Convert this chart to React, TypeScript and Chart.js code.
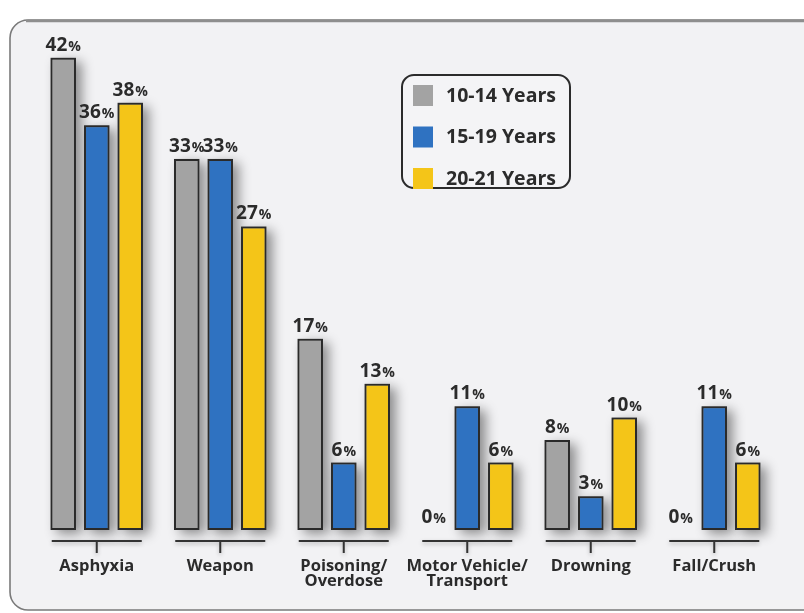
import { useEffect, useRef } from "react";
import { Chart, registerables } from "chart.js";

Chart.register(...registerables);

const categories: string[][] = [
  ["Asphyxia"],
  ["Weapon"],
  ["Poisoning/", "Overdose"],
  ["Motor Vehicle/", "Transport"],
  ["Drowning"],
  ["Fall/Crush"],
];
const seriesNames = ["10-14 Years", "15-19 Years", "20-21 Years"];
const ages10to14 = [42, 33, 17, 0, 8, 0];
const ages15to19 = [36, 33, 6, 11, 3, 11];
const ages20to21 = [38, 27, 13, 6, 10, 6];

const seriesColors = ["#a3a3a3", "#2f72c1", "#f4c518"];
const ink = "#2b2b2b";
const FONT = "'Open Sans', 'Noto Sans', sans-serif";

function roundRect(ctx: CanvasRenderingContext2D, x: number, y: number, w: number, h: number, r: number) {
  ctx.beginPath();
  ctx.moveTo(x + r, y);
  ctx.lineTo(x + w - r, y);
  ctx.arcTo(x + w, y, x + w, y + r, r);
  ctx.lineTo(x + w, y + h - r);
  ctx.arcTo(x + w, y + h, x + w - r, y + h, r);
  ctx.lineTo(x + r, y + h);
  ctx.arcTo(x, y + h, x, y + h - r, r);
  ctx.lineTo(x, y + r);
  ctx.arcTo(x, y, x + r, y, r);
  ctx.closePath();
}

const panelPlugin = {
  id: "panel",
  beforeDraw(chart: any) {
    const ctx = chart.ctx as CanvasRenderingContext2D;
    ctx.save();
    ctx.fillStyle = "#ffffff";
    ctx.fillRect(0, 0, chart.width, chart.height);
    roundRect(ctx, 10, 20, 830, 590, 18);
    ctx.fillStyle = "#f2f2f4";
    ctx.fill();
    ctx.lineWidth = 1.6;
    ctx.strokeStyle = "#7a7a7a";
    ctx.stroke();
    ctx.beginPath();
    ctx.moveTo(26, 21);
    ctx.lineTo(804, 21);
    ctx.lineWidth = 2.5;
    ctx.strokeStyle = "#8e8e8e";
    ctx.stroke();
    ctx.restore();
  },
};

const shadowPlugin = {
  id: "barShadow",
  beforeDatasetsDraw(chart: any) {
    const ctx = chart.ctx as CanvasRenderingContext2D;
    ctx.save();
    ctx.shadowColor = "rgba(0,0,0,0.42)";
    ctx.shadowBlur = 12;
    ctx.shadowOffsetX = 6;
    ctx.shadowOffsetY = 4;
    ctx.fillStyle = "#888888";
    chart.data.datasets.forEach((_ds: any, i: number) => {
      const meta = chart.getDatasetMeta(i);
      meta.data.forEach((el: any) => {
        const p = el.getProps(["x", "y", "base", "width"], true);
        const h = p.base - p.y;
        if (h <= 0) return;
        ctx.fillRect(p.x - p.width / 2, p.y, p.width, h);
      });
    });
    ctx.restore();
  },
};

const annotatePlugin = {
  id: "annotate",
  afterDraw(chart: any) {
    const ctx = chart.ctx as CanvasRenderingContext2D;
    const xScale = chart.scales.x;
    const base = chart.chartArea.bottom;
    ctx.save();
    ctx.fillStyle = ink;

    // value labels
    chart.data.datasets.forEach((ds: any, i: number) => {
      const meta = chart.getDatasetMeta(i);
      meta.data.forEach((el: any, j: number) => {
        const v = ds.data[j];
        const num = String(v);
        ctx.font = `bold 19px ${FONT}`;
        const wNum = ctx.measureText(num).width;
        ctx.font = `bold 14px ${FONT}`;
        const wPct = ctx.measureText("%").width;
        const total = wNum + wPct + 1;
        const x0 = el.x - total / 2;
        const y = el.y - 7;
        ctx.textBaseline = "alphabetic";
        ctx.textAlign = "left";
        ctx.font = `bold 19px ${FONT}`;
        ctx.fillText(num, x0, y);
        ctx.font = `bold 14px ${FONT}`;
        ctx.fillText("%", x0 + wNum + 1, y);
      });
    });

    // group brackets and category labels
    const lineY = base + 11;
    categories.forEach((lines, j) => {
      const cx = xScale.getPixelForValue(j);
      ctx.save();
      ctx.shadowColor = "rgba(0,0,0,0.25)";
      ctx.shadowBlur = 4;
      ctx.shadowOffsetY = 2;
      ctx.strokeStyle = "#333333";
      ctx.lineWidth = 2;
      ctx.beginPath();
      ctx.moveTo(cx - 45, lineY);
      ctx.lineTo(cx + 45, lineY);
      ctx.moveTo(cx, lineY);
      ctx.lineTo(cx, lineY + 12);
      ctx.stroke();
      ctx.restore();
      ctx.fillStyle = ink;
      ctx.font = `bold 16.5px ${FONT}`;
      ctx.textAlign = "center";
      ctx.textBaseline = "middle";
      lines.forEach((t, k) => {
        ctx.fillText(t, cx, base + 36 + k * 15);
      });
    });

    // legend
    roundRect(ctx, 402, 75, 168, 113, 12);
    ctx.fillStyle = "#f4f4f6";
    ctx.fill();
    ctx.lineWidth = 2;
    ctx.strokeStyle = ink;
    ctx.stroke();
    chart.data.datasets.forEach((ds: any, i: number) => {
      const cy = 95 + i * 41.5;
      ctx.fillStyle = ds.backgroundColor;
      ctx.fillRect(413, cy - 10, 20, 21);
      ctx.fillStyle = ink;
      ctx.font = `bold 19.5px ${FONT}`;
      ctx.textAlign = "left";
      ctx.textBaseline = "middle";
      ctx.fillText(ds.label, 446, cy + 1);
    });
    ctx.restore();
  },
};

export default function App() {
  const ref = useRef<HTMLCanvasElement | null>(null);
  useEffect(() => {
    document.body.style.margin = "0";
    const canvas = ref.current!;
    const series = [ages10to14, ages15to19, ages20to21];
    const chart = new Chart(canvas, {
      type: "bar",
      data: {
        labels: categories.map((c) => c.join(" ")),
        datasets: series.map((d, i) => ({
          label: seriesNames[i],
          data: d,
          backgroundColor: seriesColors[i],
          borderColor: "#2a2a2a",
          borderWidth: 2,
          borderSkipped: false,
          categoryPercentage: 0.814,
          barPercentage: 0.76,
        })),
      },
      options: {
        responsive: false,
        animation: false,
        devicePixelRatio: 1,
        layout: { padding: { left: 35, right: 28, top: 24, bottom: 83 } },
        scales: {
          x: { display: false },
          y: { display: false, min: 0, max: 45 },
        },
        plugins: {
          legend: { display: false },
          tooltip: { enabled: false },
          title: { display: false },
        },
      },
      plugins: [panelPlugin, shadowPlugin, annotatePlugin],
    });
    return () => chart.destroy();
  }, []);
  return <canvas ref={ref} width={804} height={613} style={{ display: "block" }} />;
}
